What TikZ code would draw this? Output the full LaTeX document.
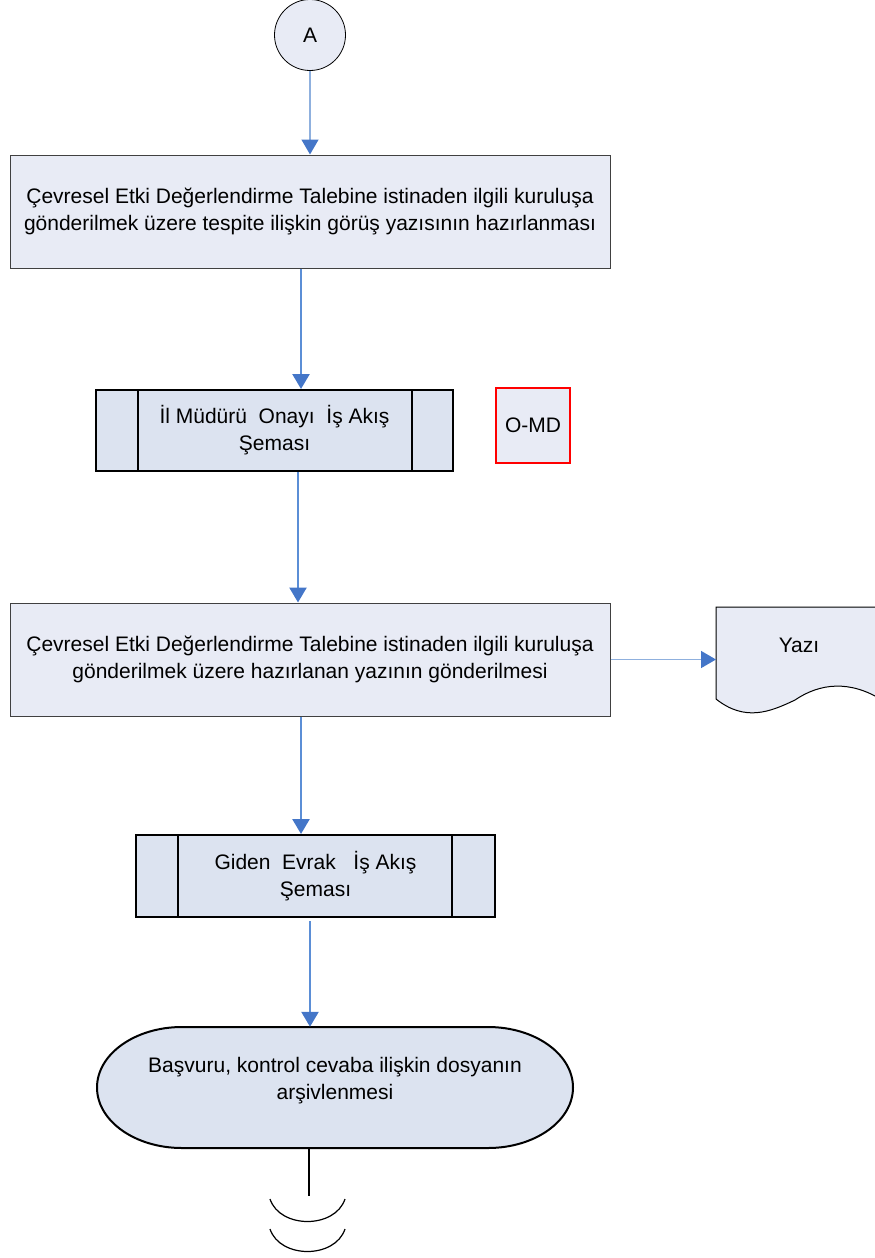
\documentclass[tikz,border=0pt]{standalone}
\usepackage{fontspec}
\setmainfont{Liberation Sans}
\usepackage{xcolor}
\usepackage{tikz}
\usetikzlibrary{positioning}
\usetikzlibrary{arrows.meta}
\definecolor{boxfill}{RGB}{232,235,245}
\definecolor{subfill}{RGB}{220,227,240}
\definecolor{lineblue}{RGB}{91,142,214}
\definecolor{paleblue}{RGB}{143,176,222}
\definecolor{tipblue}{RGB}{68,118,200}

\begin{document}
\begin{tikzpicture}[x=1pt,y=-1pt,
        every node/.style={font=\fontsize{21}{27}\selectfont, align=center},
        taskbox/.style={draw=black!75, line width=1pt, fill=boxfill, minimum width=600pt, minimum height=113pt, inner sep=0pt},
        subproc/.style={draw=black, line width=2pt, fill=subfill, inner sep=0pt},
        thinflow/.style={paleblue, line width=1.5pt, -{Triangle[length=15pt,width=17pt,color=tipblue]}},
        thickflow/.style={lineblue, line width=2.5pt, -{Triangle[length=15pt,width=17pt,color=tipblue]}}]
        \useasboundingbox (0,0) rectangle (875,1258);
        \clip (0,0) rectangle (875,1258);
        % connector and boxes
        \node[circle, draw, line width=0.8pt, fill=boxfill, minimum size=71pt, inner sep=0pt] (conA) at (310,35) {A};
        \node[taskbox] (tespit) at (310,211.5) {Çevresel Etki Değerlendirme Talebine istinaden ilgili kuruluşa\\gönderilmek üzere tespite ilişkin görüş yazısının hazırlanması};
        \node[subproc, minimum width=357pt, minimum height=81pt] (onay) at (274.5,430.5) {İl Müdürü\ \ Onayı\ \ İş Akış\\Şeması};
        \draw[line width=2pt] ([xshift=43pt]onay.north west) -- ([xshift=43pt]onay.south west);
        \draw[line width=2pt] ([xshift=-42pt]onay.north east) -- ([xshift=-42pt]onay.south east);
        \node[draw=red, line width=2.5pt, fill=boxfill, minimum width=74pt, minimum height=75pt, inner sep=0pt] (omd) at (533,425.5) {O-MD};
        \node[taskbox] (gonder) at (310,659.5) {Çevresel Etki Değerlendirme Talebine istinaden ilgili kuruluşa\\gönderilmek üzere hazırlanan yazının gönderilmesi};
        % document
        \draw[line width=1pt, fill=boxfill] (716,699) -- (716,607) -- (882,607) -- (882,700)
            .. controls (850,680) and (820,683) .. (795,700)
            .. controls (770,712) and (745,722) .. (716,699);
        \node (yazi) at (799,645) {Yazı};
        \coordinate (yaziin) at (716,659.5);
        \node[subproc, minimum width=359pt, minimum height=82pt] (giden) at (315.5,876) {Giden\ \ Evrak\ \ \ İş Akış\\Şeması};
        \draw[line width=2pt] ([xshift=43pt]giden.north west) -- ([xshift=43pt]giden.south west);
        \draw[line width=2pt] ([xshift=-44pt]giden.north east) -- ([xshift=-44pt]giden.south east);
        % terminator
        \draw[line width=2pt, fill=subfill] (182,1027) -- (488,1027)
            arc[start angle=-90, end angle=90, x radius=85, y radius=60.5] -- (182,1148)
            arc[start angle=90, end angle=270, x radius=85, y radius=60.5] -- cycle;
        \node[minimum width=476pt, minimum height=121pt, inner sep=0pt] (arsiv) at (335,1087.5) {};
        \node (arsivtext) at ([yshift=7pt]arsiv.center) {Başvuru, kontrol cevaba ilişkin dosyanın\\arşivlenmesi};
        \coordinate (kes) at (309,1196);
        % flow lines
        \draw[thinflow] (conA) -- (tespit);
        \draw[thickflow] ([xshift=-9pt]tespit.south) -- ([xshift=26.5pt]onay.north);
        \draw[thickflow] ([xshift=23.5pt]onay.south) -- ([xshift=-12pt]gonder.north);
        \draw[thinflow] (gonder.east) -- (yaziin);
        \draw[thickflow] ([xshift=-9pt]gonder.south) -- ([xshift=-14.5pt]giden.north);
        \draw[thickflow] ([xshift=-5.5pt,yshift=-3pt]giden.south) -- ([xshift=-25pt]arsiv.north);
        \draw[line width=1.2pt] ([xshift=-26pt]arsiv.south) -- (kes);
        \draw[line width=1.2pt] (270,1199) .. controls (280,1229) and (335,1229) .. (345,1199);
        \draw[line width=1.2pt] (270,1229) .. controls (280,1259) and (335,1259) .. (345,1229);
    \end{tikzpicture}
\end{document}
